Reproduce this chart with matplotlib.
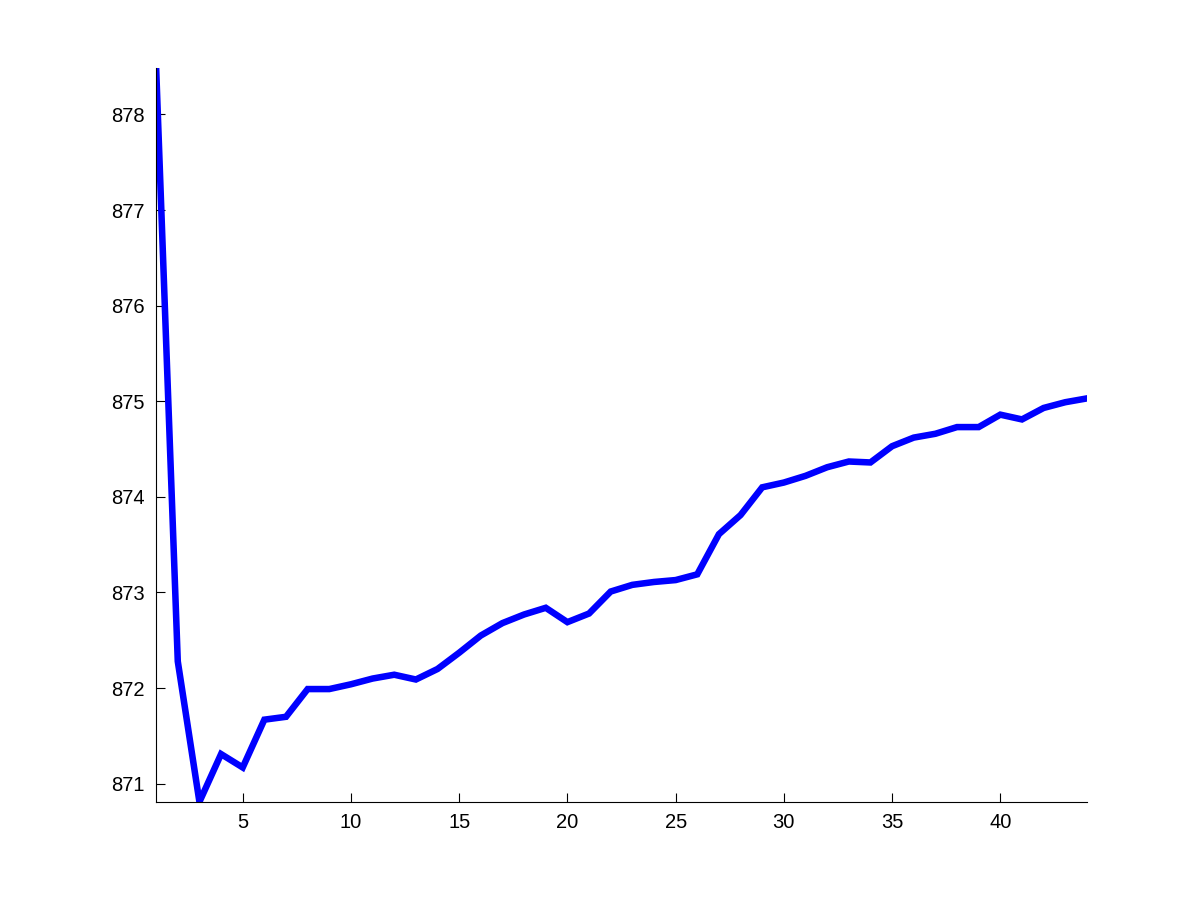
import numpy as np
import matplotlib
matplotlib.use("Agg")
import matplotlib.pyplot as plt

# iteration index and objective values
iters = np.arange(1, 45)
values = [878.49, 872.28, 870.81, 871.31, 871.17, 871.67, 871.70, 871.99, 871.99, 872.04,
          872.10, 872.14, 872.09, 872.20, 872.37, 872.55, 872.68, 872.77, 872.84, 872.69,
          872.78, 873.01, 873.08, 873.11, 873.13, 873.19, 873.61, 873.81, 874.10, 874.15,
          874.22, 874.31, 874.37, 874.36, 874.53, 874.62, 874.66, 874.73, 874.73, 874.86,
          874.81, 874.93, 874.99, 875.03]
xticks = [5, 10, 15, 20, 25, 30, 35, 40]
yticks = [871, 872, 873, 874, 875, 876, 877, 878]

plt.rcParams['font.family'] = ['Liberation Sans', 'DejaVu Sans']

fig = plt.figure(figsize=(12.01, 9.01), dpi=100)
ax = fig.add_axes([0.13, 0.11, 0.775, 0.815])
ax.plot(iters, values, color='#0000ff', linewidth=4.7, solid_joinstyle='miter')

ax.set_xlim(1, 44)
ax.set_ylim(min(values), max(values))
ax.set_xticks(xticks)
ax.set_yticks(yticks)
ax.tick_params(direction='in', length=6.5, width=0.8, labelsize=14.5, pad=8)
ax.spines['top'].set_visible(False)
ax.spines['right'].set_visible(False)
for s in ['left', 'bottom']:
    ax.spines[s].set_linewidth(0.8)

fig.savefig('out.png', dpi=100, facecolor='white')
